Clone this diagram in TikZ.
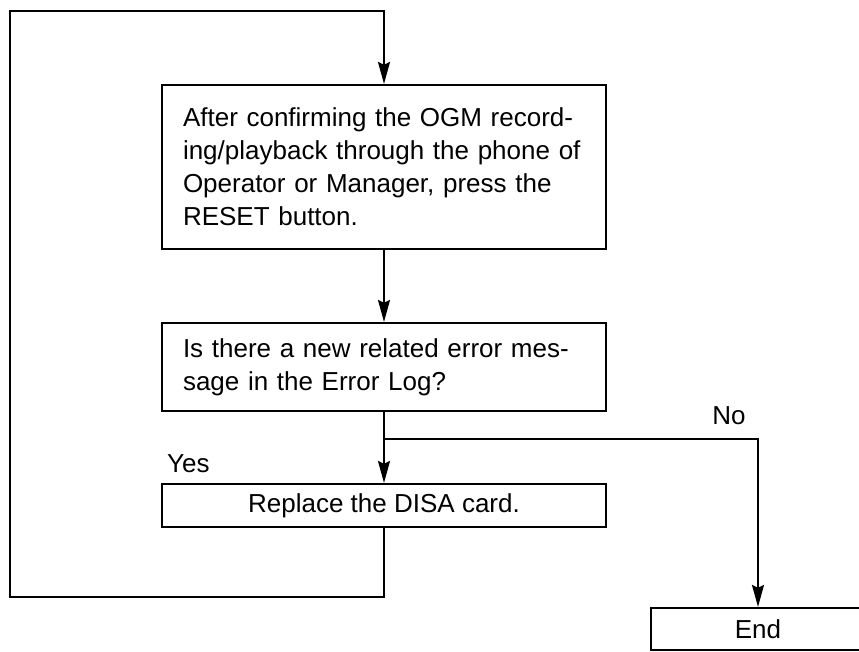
\documentclass[tikz,border=0pt]{standalone}
\usepackage{fontspec}
\setmainfont{Liberation Sans}
\usetikzlibrary{arrows.meta}
\begin{document}
\begin{tikzpicture}[x=1pt,y=-1pt,
  font=\fontsize{26}{33}\selectfont,
  box/.style={draw, line width=2.2pt, minimum width=444pt, inner sep=0pt},
  leftbox/.style={box, text width=402pt, align=left},
  conn/.style={line width=2.2pt},
  arr/.style={conn, -{Stealth[length=22pt,width=12pt,inset=3pt]}},
  lbl/.style={inner sep=0pt}]
\useasboundingbox (0,0) rectangle (859,651);

\node[leftbox, minimum height=164pt] (b1) at (384,167)
  {After confirming the OGM record-\\ing/playback through the phone of\\Operator or Manager, press the\\RESET button.};
\node[leftbox, minimum height=88pt] (b2) at (384,367)
  {Is there a new related error mes-\\sage in the Error Log?};
\node[box, minimum height=43pt] (b3) at (384,505.5) {Replace the DISA card.};
\node[box, minimum width=214pt, minimum height=42pt] (end) at (758,629) {End};

\node[lbl, anchor=base west] (yes) at (167,472) {Yes};
\node[lbl, anchor=base] (no) at (729,424) {No};

\coordinate (br) at (384,439);
\coordinate (lb) at (10,597);
\coordinate (lt) at (10,11);

\draw[arr] (b1) -- (b2);
\draw[arr] (b2) -- (b3);
\draw[arr] (br) -| (end.north);
\draw[arr] (b3.south) |- (lb) -- (lt) -| (b1.north);
\end{tikzpicture}
\end{document}
